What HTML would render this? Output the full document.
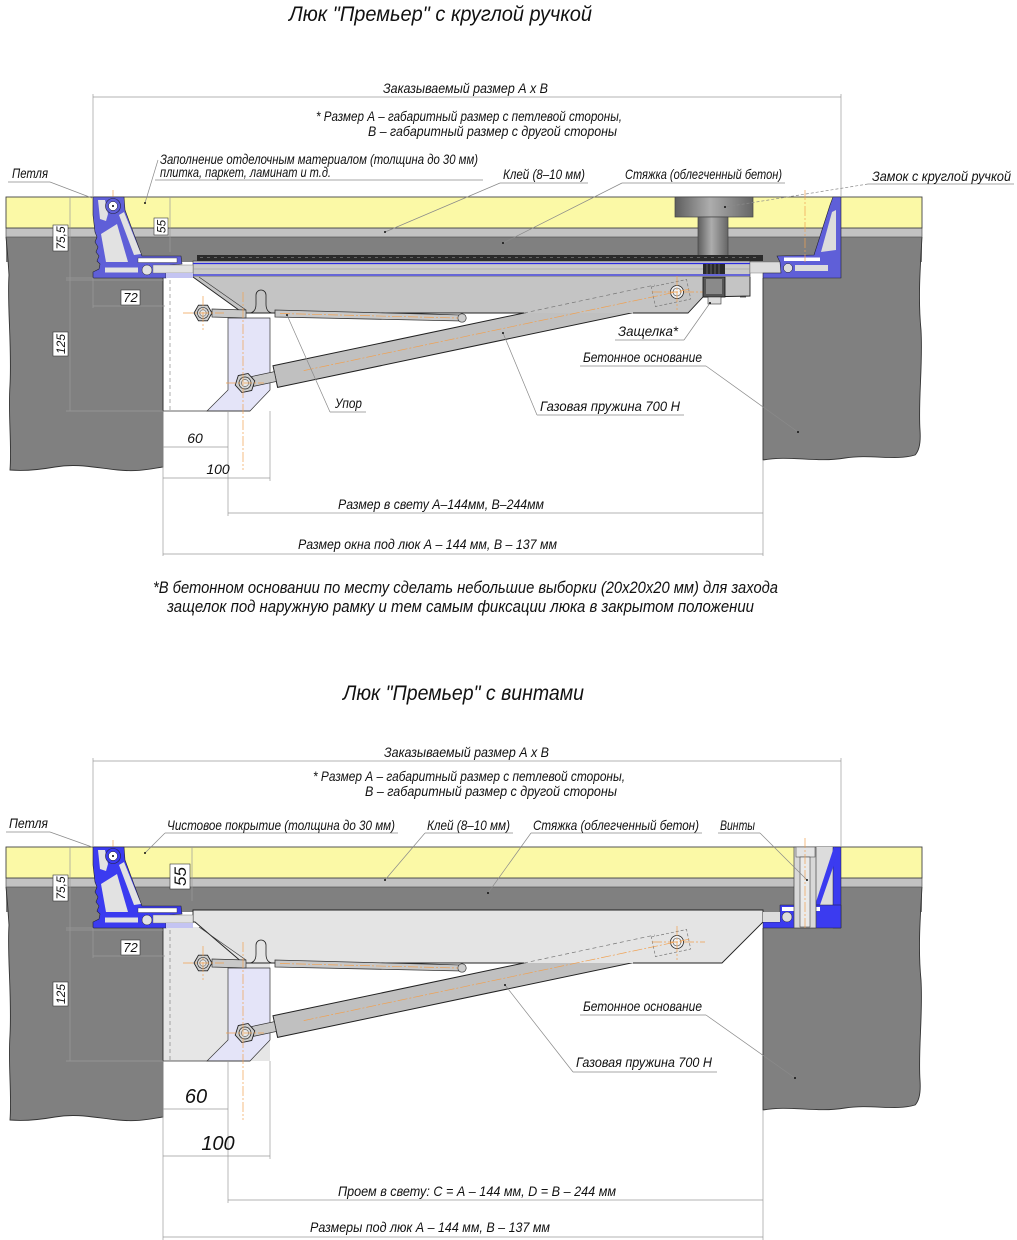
<!DOCTYPE html>
<html><head><meta charset="utf-8"><style>
html,body{margin:0;padding:0;background:#fff;}
svg{display:block;}
.t{font-family:"Liberation Sans Narrow","Liberation Sans","DejaVu Sans",sans-serif;font-style:italic;fill:#111;}
</style></head><body>
<svg width="1017" height="1240" viewBox="0 0 1017 1240" xmlns="http://www.w3.org/2000/svg">
<defs>
<linearGradient id="mh" x1="0" x2="1" y1="0" y2="0">
<stop offset="0" stop-color="#5E5E5E"/><stop offset="0.45" stop-color="#ADADAD"/><stop offset="1" stop-color="#666"/>
</linearGradient>
<g id="base">
<rect x="6" y="237" width="916" height="25" fill="#808080"/>
<path d="M6,237 L163,237 L163,467 C150,469 138,472 118,470 C96,468 78,463 55,467 C38,470 22,471 10,470 C12,445 8,415 10,385 C12,345 7,305 9,275 C8,258 7,247 6,237 Z" fill="#808080"/>
<path d="M163,277 L163,467 C150,469 138,472 118,470 C96,468 78,463 55,467 C38,470 22,471 10,470 C12,445 8,415 10,385 C12,345 7,305 9,275 C8,258 7,247 6,237" fill="none" stroke="#333" stroke-width="0.9"/>
<path d="M763,237 L922,237 C920,270 918,300 921,330 C923,365 918,400 920,430 C921,444 919,451 915,455 C895,461 872,454 845,458 C815,463 790,455 763,460 Z" fill="#808080"/>
<path d="M763,278 L763,460 C790,455 815,463 845,458 C872,454 895,461 915,455 C919,451 921,444 920,430 C918,400 923,365 921,330 C918,300 920,270 922,237" fill="none" stroke="#333" stroke-width="0.9"/>
<rect x="6" y="228" width="916" height="9" fill="#C2C2C2" stroke="#555" stroke-width="0.7"/>
<rect x="6" y="197" width="916" height="31" fill="#FBF9A6" stroke="#444" stroke-width="0.9"/>
</g>
<g id="mech">
<polygon points="228,318 270,318 270,390 250,411 207,411 228,390" fill="#E4E4F8" stroke="#333" stroke-width="0.7"/>
<line x1="163" y1="411" x2="250" y2="411" stroke="#333" stroke-width="0.8"/>
<line x1="163" y1="277" x2="163" y2="411" stroke="#333" stroke-width="0.9"/>
<line x1="170" y1="280" x2="170" y2="411" stroke="#777" stroke-width="0.6" stroke-dasharray="4,3"/>
<polygon points="273,365.8 634.1,289.8 638.7,311.4 277.6,387.4" fill="#C0C0C0" stroke="#222" stroke-width="1"/>
<polygon points="251.8,376.5 274.3,371.7 276.3,381.5 253.8,386.3" fill="#C8C8C8" stroke="#333" stroke-width="0.7"/>
<polygon points="255,383 250,391.7 240,391.7 235,383 240,374.3 250,374.3" transform="rotate(-12 245 383)" fill="#CFCFCF" stroke="#222" stroke-width="0.9"/>
<circle cx="245" cy="383" r="6" fill="#D8D8D8" stroke="#222" stroke-width="0.7"/>
<circle cx="245" cy="383" r="3.5" fill="#E8E8E8" stroke="#333" stroke-width="0.5"/>
</g>
<g id="mech2">
<path d="M250,313 Q256,312 256,304 L256,295 A5,5 0 0 1 266,295 L266,304 Q266,312 272,313" fill="none" stroke="#222" stroke-width="0.8"/>
<line x1="199" y1="277" x2="246" y2="310" stroke="#333" stroke-width="0.6"/>
<polygon points="212,309 246,310 246,318 212,317" fill="#C8C8C8" stroke="#333" stroke-width="0.7"/>
<polygon points="212,313 207.5,320.8 198.5,320.8 194,313 198.5,305.2 207.5,305.2" fill="#CFCFCF" stroke="#222" stroke-width="0.9"/>
<circle cx="203" cy="313" r="5.5" fill="#D8D8D8" stroke="#222" stroke-width="0.6"/>
<circle cx="203" cy="313" r="3.2" fill="#E8E8E8" stroke="#333" stroke-width="0.5"/>
<polygon points="275,310 462,315 462,321 275,317" fill="#C8C8C8" stroke="#333" stroke-width="0.8"/>
<circle cx="462" cy="318" r="4.2" fill="#CCC" stroke="#333" stroke-width="0.7"/>
<line x1="524" y1="313" x2="655" y2="285" stroke="#777" stroke-width="0.7" stroke-dasharray="4,3"/>
<rect x="-18" y="-10" width="36" height="20" transform="translate(671,293) rotate(-12)" fill="none" stroke="#777" stroke-width="0.7" stroke-dasharray="3,2"/>
<circle cx="677" cy="292" r="6.5" fill="#F2F2F2" stroke="#222" stroke-width="0.8"/>
<circle cx="677" cy="292" r="4" fill="none" stroke="#333" stroke-width="0.6"/>
<g stroke="#F0A050" stroke-width="0.7" fill="none" stroke-dasharray="10,2,2,2">
<line x1="303.7" y1="370.6" x2="690" y2="289"/>
<line x1="243" y1="292" x2="243" y2="470"/>
<line x1="280" y1="313.5" x2="458" y2="318"/>
<line x1="183" y1="313" x2="224" y2="313"/>
<line x1="203" y1="296" x2="203" y2="330"/>
<line x1="226" y1="383" x2="264" y2="383"/>
<line x1="652" y1="292" x2="705" y2="292"/>
<line x1="677" y1="276" x2="677" y2="310"/>
<line x1="113" y1="190" x2="113" y2="225"/>
</g>
</g>
<g id="hinge">
<path d="M93,197 L124,197 L125,210 L142,256 L181,256 L182,264 L170,265 L166,270 L166,278 L93,278 L93,272 L99,269 L100,264 L97,261 L99,256 L96,252 L98,247 L95,242 L97,237 L95,232 L93,215 Z" fill="currentColor" stroke="#223" stroke-width="0.6"/>
<polygon points="98,200 105,200 108,214 106,221 100,219" fill="#E2E2E2"/>
<polygon points="119,215 124,212 141,254 134,255" fill="#E2E2E2"/>
<polygon points="101,234 117,224 128,262 106,262" fill="#E2E2E2"/>
<rect x="138" y="258" width="39" height="4.5" fill="#FFF" stroke="#333" stroke-width="0.4"/>
<rect x="105" y="267.5" width="33" height="5" fill="#E2E2E2"/>
<circle cx="147" cy="270" r="5" fill="#E2E2E2" stroke="#223" stroke-width="0.5"/>
<circle cx="113" cy="206" r="7.5" fill="currentColor" stroke="#223" stroke-width="0.6"/>
<circle cx="113" cy="206" r="4.5" fill="#FFF" stroke="#223" stroke-width="0.5"/>
<circle cx="113" cy="206" r="1" fill="#000"/>
<rect x="153" y="265" width="40" height="8" fill="#E2E2E2" stroke="#666" stroke-width="0.4"/>
<rect x="166" y="273" width="27" height="5" fill="#C4C4F2"/>
</g>
</defs>

<!-- ================= TOP SECTION ================= -->
<use href="#base"/>
<rect x="675" y="197" width="78" height="20" fill="url(#mh)" stroke="#444" stroke-width="0.7"/>
<rect x="698" y="217" width="30" height="40" fill="url(#mh)" stroke="#444" stroke-width="0.7"/>
<use href="#mech"/>
<rect x="197" y="255" width="566" height="6" fill="#2A2A2A"/>
<line x1="200" y1="257.5" x2="760" y2="257.5" stroke="#777" stroke-width="0.8" stroke-dasharray="3,4"/>
<rect x="193" y="261" width="557" height="16" fill="#C9C9C9" stroke="#333" stroke-width="0.6"/>
<line x1="193" y1="263.5" x2="750" y2="263.5" stroke="#2B2BE0" stroke-width="1.3"/>
<line x1="193" y1="275" x2="750" y2="275" stroke="#2B2BE0" stroke-width="1.3"/>
<line x1="193" y1="269" x2="750" y2="269" stroke="#999" stroke-width="0.6"/>
<polygon points="193,277 243,313 688,313 703,297 750,296 750,277" fill="#C4C4C4"/>
<polyline points="193,277 243,313 524,313" fill="none" stroke="#222" stroke-width="0.9"/>
<polyline points="633,313 688,313 703,297 750,296 750,277" fill="none" stroke="#222" stroke-width="0.9"/>
<use href="#mech2"/>
<use href="#hinge" style="color:#5F5FD8"/>
<rect x="703" y="264" width="22" height="10" fill="#2A2A2A"/>
<g stroke="#888" stroke-width="0.6"><line x1="707" y1="264" x2="707" y2="274"/><line x1="711" y1="264" x2="711" y2="274"/><line x1="715" y1="264" x2="715" y2="274"/><line x1="719" y1="264" x2="719" y2="274"/></g>
<rect x="703" y="277" width="22" height="20" fill="#555" stroke="#111" stroke-width="0.8"/>
<rect x="706" y="279" width="16" height="15" fill="#8A8A8A"/>
<rect x="708" y="297" width="13" height="7" fill="#DDD" stroke="#333" stroke-width="0.6"/>
<line x1="740" y1="297" x2="746" y2="297" stroke="#333" stroke-width="0.8"/>
<rect x="750" y="262" width="31" height="11" fill="#DCDCDC" stroke="#666" stroke-width="0.4"/>
<path d="M833,197 L841,197 L841,278 L763,278 L763,273 L781,273 L780,262 L777,256 L814,255 L830,205 Z" fill="#5F5FD8" stroke="#223" stroke-width="0.6"/>
<polygon points="832,212 836,210 836,250 821,252" fill="#DCDCDC"/>
<rect x="784" y="257.5" width="36" height="3.5" fill="#fff"/>
<rect x="795" y="265" width="33" height="6" fill="#DCDCDC"/>
<circle cx="788" cy="268" r="4.5" fill="#DCDCDC" stroke="#223" stroke-width="0.5"/>
<line x1="805" y1="190" x2="805" y2="262" stroke="#F0A050" stroke-width="0.7" stroke-dasharray="10,2,2,2"/>

<g stroke="#9A9A9A" stroke-width="0.7" fill="none">
<line x1="93" y1="97" x2="841" y2="97"/>
<line x1="93" y1="94" x2="93" y2="197"/>
<line x1="841" y1="94" x2="841" y2="197"/>
<line x1="70" y1="197" x2="70" y2="411"/>
<line x1="66" y1="278" x2="93" y2="278"/>
<line x1="66" y1="280" x2="163" y2="280"/>
<line x1="66" y1="411" x2="163" y2="411"/>
<line x1="170" y1="197" x2="170" y2="252"/>
<line x1="93" y1="278" x2="93" y2="308"/>
<line x1="93" y1="306" x2="165" y2="306"/>
<line x1="163" y1="411" x2="163" y2="556"/>
<line x1="228" y1="411" x2="228" y2="516"/>
<line x1="270" y1="411" x2="270" y2="481"/>
<line x1="763" y1="460" x2="763" y2="556"/>
<line x1="163" y1="447" x2="228" y2="447"/>
<line x1="163" y1="478" x2="270" y2="478"/>
<line x1="228" y1="513" x2="763" y2="513"/>
<line x1="163" y1="554" x2="763" y2="554"/>
</g>
<rect x="53" y="225" width="15" height="26" fill="#fff" stroke="#333" stroke-width="0.6"/>
<text class="t" transform="translate(65,238) rotate(-90)" text-anchor="middle" font-size="12">75,5</text>
<rect x="53" y="332" width="15" height="24" fill="#fff" stroke="#333" stroke-width="0.6"/>
<text class="t" transform="translate(65,344) rotate(-90)" text-anchor="middle" font-size="12">125</text>
<rect x="154" y="218" width="14" height="17" fill="#fff" stroke="#333" stroke-width="0.6"/>
<text class="t" transform="translate(165.5,226.5) rotate(-90)" text-anchor="middle" font-size="12">55</text>
<rect x="121" y="290" width="19" height="15" fill="#fff" stroke="#333" stroke-width="0.6"/>
<text class="t" x="130.5" y="302" text-anchor="middle" font-size="13">72</text>
<text class="t" x="195" y="443" text-anchor="middle" font-size="14">60</text>
<text class="t" x="218" y="474" text-anchor="middle" font-size="14">100</text>

<g stroke="#8A8A8A" stroke-width="0.7" fill="none">
<line x1="8" y1="182" x2="50" y2="182"/><line x1="50" y1="182" x2="92" y2="198"/>
<line x1="155" y1="180" x2="483" y2="180"/><line x1="158" y1="160" x2="145" y2="203"/>
<line x1="500" y1="183" x2="588" y2="183"/><line x1="500" y1="183" x2="385" y2="232"/>
<line x1="622" y1="183" x2="785" y2="183"/><line x1="622" y1="183" x2="503" y2="243"/>
<line x1="868" y1="184" x2="1014" y2="184"/><line x1="868" y1="184" x2="725" y2="207" stroke-dasharray="3,2"/>
<line x1="615" y1="340" x2="684" y2="340"/><line x1="684" y1="340" x2="710" y2="303"/>
<line x1="580" y1="366" x2="706" y2="366"/><line x1="706" y1="366" x2="798" y2="432"/>
<line x1="537" y1="415" x2="684" y2="415"/><line x1="537" y1="415" x2="503" y2="333"/>
<line x1="330" y1="412" x2="366" y2="412"/><line x1="330" y1="412" x2="287" y2="315"/>
</g>
<g fill="#111"><circle cx="145" cy="203" r="1"/><circle cx="385" cy="232" r="1"/><circle cx="503" cy="243" r="1"/><circle cx="725" cy="207" r="1"/><circle cx="798" cy="432" r="1"/><circle cx="503" cy="333" r="1"/><circle cx="287" cy="315" r="1"/><circle cx="710" cy="303" r="1"/></g>

<text class="t" x="289" y="21" font-size="21" textLength="303" lengthAdjust="spacingAndGlyphs">Люк "Премьер" с круглой ручкой</text>
<text class="t" x="383" y="93" font-size="14" textLength="165" lengthAdjust="spacingAndGlyphs">Заказываемый размер А х В</text>
<text class="t" x="316" y="121" font-size="14" textLength="306" lengthAdjust="spacingAndGlyphs">* Размер А – габаритный размер с петлевой стороны,</text>
<text class="t" x="368" y="136" font-size="14" textLength="249" lengthAdjust="spacingAndGlyphs">В – габаритный размер с другой стороны</text>
<text class="t" x="160" y="164" font-size="14" textLength="318" lengthAdjust="spacingAndGlyphs">Заполнение отделочным материалом (толщина до 30 мм)</text>
<text class="t" x="160" y="177" font-size="14" textLength="171" lengthAdjust="spacingAndGlyphs">плитка, паркет, ламинат и т.д.</text>
<text class="t" x="12" y="178" font-size="14" textLength="36" lengthAdjust="spacingAndGlyphs">Петля</text>
<text class="t" x="503" y="179" font-size="14" textLength="82" lengthAdjust="spacingAndGlyphs">Клей (8–10 мм)</text>
<text class="t" x="625" y="179" font-size="14" textLength="157" lengthAdjust="spacingAndGlyphs">Стяжка (облегченный бетон)</text>
<text class="t" x="872" y="181" font-size="14" textLength="139" lengthAdjust="spacingAndGlyphs">Замок с круглой ручкой</text>
<text class="t" x="618" y="336" font-size="14" textLength="60" lengthAdjust="spacingAndGlyphs">Защелка*</text>
<text class="t" x="583" y="362" font-size="14" textLength="119" lengthAdjust="spacingAndGlyphs">Бетонное основание</text>
<text class="t" x="540" y="411" font-size="14" textLength="140" lengthAdjust="spacingAndGlyphs">Газовая пружина 700 Н</text>
<text class="t" x="335" y="408" font-size="14" textLength="27" lengthAdjust="spacingAndGlyphs">Упор</text>
<text class="t" x="338" y="509" font-size="14" textLength="206" lengthAdjust="spacingAndGlyphs">Размер в свету А–144мм, В–244мм</text>
<text class="t" x="298" y="549" font-size="14" textLength="259" lengthAdjust="spacingAndGlyphs">Размер окна под люк А – 144 мм, В – 137 мм</text>
<text class="t" x="153" y="593" font-size="17" textLength="625" lengthAdjust="spacingAndGlyphs">*В бетонном основании по месту сделать небольшие выборки (20х20х20 мм) для захода</text>
<text class="t" x="167" y="612" font-size="17" textLength="587" lengthAdjust="spacingAndGlyphs">защелок под наружную рамку и тем самым фиксации люка в закрытом положении</text>

<!-- ================= BOTTOM SECTION ================= -->
<g transform="translate(0,650)">
<use href="#base"/>
<rect x="163" y="277" width="107" height="134" fill="#E6E6E6"/>
<use href="#mech"/>
<polygon points="193,260 763,260 763,272 722,313 243,313 195,272 193,272" fill="#E4E4E4"/>
<polyline points="633,313 722,313 763,272 763,260 193,260 193,272 195,272 243,313 524,313" fill="none" stroke="#222" stroke-width="0.9"/>
<use href="#mech2"/>
<use href="#hinge" style="color:#3B3BF0"/>
<rect x="794" y="197" width="40" height="58" fill="#DCDCDC"/>
<rect x="833" y="197" width="8" height="81" fill="#3B3BF0" stroke="#223" stroke-width="0.5"/>
<polygon points="834,197 839,200 820,255 815,255" fill="#3B3BF0"/>
<polygon points="780,255 841,255 841,278 763,278 763,272 780,272" fill="#3B3BF0" stroke="#223" stroke-width="0.5"/>
<rect x="782" y="257" width="38" height="4" fill="#fff"/>
<circle cx="787" cy="267" r="5" fill="#DCDCDC" stroke="#223" stroke-width="0.5"/>
<rect x="763" y="262" width="17" height="10" fill="#DCDCDC"/>
<rect x="794" y="197" width="22" height="81" fill="#D8D8D8" stroke="#444" stroke-width="0.7"/>
<rect x="796" y="197" width="19" height="10" fill="#E4E4E4" stroke="#555" stroke-width="0.6"/>
<rect x="800" y="207" width="10" height="70" fill="#EAEAEA" stroke="#444" stroke-width="0.6"/>
<line x1="805" y1="188" x2="805" y2="280" stroke="#F0A050" stroke-width="0.7" stroke-dasharray="10,2,2,2"/>
</g>

<g stroke="#9A9A9A" stroke-width="0.7" fill="none">
<line x1="93" y1="761" x2="841" y2="761"/>
<line x1="93" y1="758" x2="93" y2="847"/>
<line x1="841" y1="758" x2="841" y2="847"/>
<line x1="70" y1="847" x2="70" y2="1061"/>
<line x1="66" y1="928" x2="93" y2="928"/>
<line x1="66" y1="930" x2="163" y2="930"/>
<line x1="66" y1="1061" x2="163" y2="1061"/>
<line x1="192" y1="847" x2="192" y2="901"/>
<line x1="93" y1="928" x2="93" y2="958"/>
<line x1="93" y1="956" x2="165" y2="956"/>
<line x1="163" y1="1061" x2="163" y2="1240"/>
<line x1="228" y1="1061" x2="228" y2="1203"/>
<line x1="270" y1="1061" x2="270" y2="1159"/>
<line x1="763" y1="1110" x2="763" y2="1240"/>
<line x1="163" y1="1109" x2="228" y2="1109"/>
<line x1="163" y1="1156" x2="270" y2="1156"/>
<line x1="228" y1="1200" x2="763" y2="1200"/>
<line x1="163" y1="1237" x2="763" y2="1237"/>
</g>
<rect x="53" y="875" width="15" height="26" fill="#fff" stroke="#333" stroke-width="0.6"/>
<text class="t" transform="translate(65,888) rotate(-90)" text-anchor="middle" font-size="12">75,5</text>
<rect x="53" y="982" width="15" height="24" fill="#fff" stroke="#333" stroke-width="0.6"/>
<text class="t" transform="translate(65,994) rotate(-90)" text-anchor="middle" font-size="12">125</text>
<rect x="170" y="864" width="20" height="25" fill="#fff" stroke="#333" stroke-width="0.6"/>
<text class="t" transform="translate(186,876.5) rotate(-90)" text-anchor="middle" font-size="17">55</text>
<rect x="121" y="940" width="19" height="15" fill="#fff" stroke="#333" stroke-width="0.6"/>
<text class="t" x="130.5" y="952" text-anchor="middle" font-size="13">72</text>
<text class="t" x="196" y="1103" text-anchor="middle" font-size="20">60</text>
<text class="t" x="218" y="1150" text-anchor="middle" font-size="20">100</text>

<g stroke="#8A8A8A" stroke-width="0.7" fill="none">
<line x1="6" y1="832" x2="50" y2="832"/><line x1="50" y1="832" x2="92" y2="847"/>
<line x1="165" y1="833" x2="398" y2="833"/><line x1="165" y1="833" x2="145" y2="853"/>
<line x1="425" y1="833" x2="513" y2="833"/><line x1="425" y1="833" x2="385" y2="880"/>
<line x1="531" y1="833" x2="702" y2="833"/><line x1="531" y1="833" x2="488" y2="893"/>
<line x1="718" y1="833" x2="760" y2="833"/><line x1="760" y1="833" x2="807" y2="880"/>
<line x1="580" y1="1015" x2="706" y2="1015"/><line x1="706" y1="1015" x2="795" y2="1078"/>
<line x1="573" y1="1072" x2="717" y2="1072"/><line x1="573" y1="1072" x2="505" y2="985"/>
</g>
<g fill="#111"><circle cx="145" cy="853" r="1"/><circle cx="385" cy="880" r="1"/><circle cx="488" cy="893" r="1"/><circle cx="807" cy="880" r="1"/><circle cx="795" cy="1078" r="1"/><circle cx="505" cy="985" r="1"/></g>

<text class="t" x="343" y="700" font-size="21" textLength="241" lengthAdjust="spacingAndGlyphs">Люк "Премьер" с винтами</text>
<text class="t" x="384" y="757" font-size="14" textLength="165" lengthAdjust="spacingAndGlyphs">Заказываемый размер А х В</text>
<text class="t" x="313" y="781" font-size="14" textLength="312" lengthAdjust="spacingAndGlyphs">* Размер А – габаритный размер с петлевой стороны,</text>
<text class="t" x="365" y="796" font-size="14" textLength="252" lengthAdjust="spacingAndGlyphs">В – габаритный размер с другой стороны</text>
<text class="t" x="9" y="828" font-size="14" textLength="39" lengthAdjust="spacingAndGlyphs">Петля</text>
<text class="t" x="167" y="830" font-size="14" textLength="228" lengthAdjust="spacingAndGlyphs">Чистовое покрытие (толщина до 30 мм)</text>
<text class="t" x="427" y="830" font-size="14" textLength="83" lengthAdjust="spacingAndGlyphs">Клей (8–10 мм)</text>
<text class="t" x="533" y="830" font-size="14" textLength="166" lengthAdjust="spacingAndGlyphs">Стяжка (облегченный бетон)</text>
<text class="t" x="720" y="830" font-size="14" textLength="35" lengthAdjust="spacingAndGlyphs">Винты</text>
<text class="t" x="583" y="1011" font-size="14" textLength="119" lengthAdjust="spacingAndGlyphs">Бетонное основание</text>
<text class="t" x="576" y="1067" font-size="14" textLength="136" lengthAdjust="spacingAndGlyphs">Газовая пружина 700 Н</text>
<text class="t" x="338" y="1196" font-size="14" textLength="278" lengthAdjust="spacingAndGlyphs">Проем в свету: С = А – 144 мм, D = В – 244 мм</text>
<text class="t" x="310" y="1232" font-size="14" textLength="240" lengthAdjust="spacingAndGlyphs">Размеры под люк А – 144 мм, В – 137 мм</text>
</svg>
</body></html>
